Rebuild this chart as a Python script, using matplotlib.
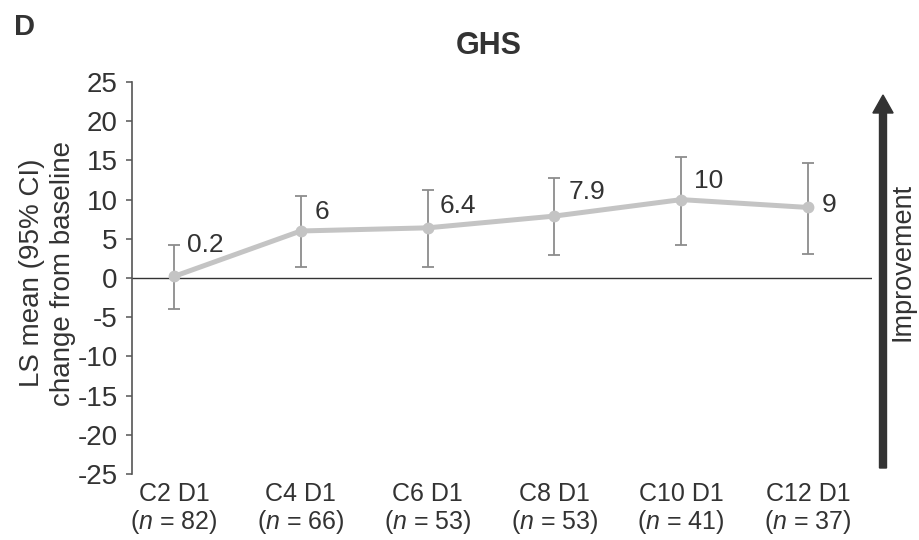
import matplotlib
matplotlib.use("Agg")
from matplotlib import pyplot as plt

plt.rcParams['font.family'] = ['Liberation Sans', 'DejaVu Sans']
plt.rcParams['mathtext.fontset'] = 'custom'
plt.rcParams['mathtext.rm'] = 'Liberation Sans'
plt.rcParams['mathtext.it'] = 'Liberation Sans:italic'
plt.rcParams['axes.unicode_minus'] = False

visits = ["C2 D1", "C4 D1", "C6 D1", "C8 D1", "C10 D1", "C12 D1"]
n_pts = [82, 66, 53, 53, 41, 37]
ls_mean = [0.2, 6, 6.4, 7.9, 10, 9]
ci_low = [-4.0, 1.4, 1.4, 2.9, 4.2, 3.1]
ci_high = [4.2, 10.5, 11.2, 12.8, 15.4, 14.7]
yticks = list(range(-25, 30, 5))

# label offsets in pixels (dx, dy)
offsets = [(13, 31), (14, 19), (12, 22), (14, 24), (13, 19), (14, 2)]

txt = '#333333'
fig = plt.figure(figsize=(9.19, 5.40), dpi=100)
ax = fig.add_axes([0.1436, 0.1222, 0.8053, 0.7259])

x = list(range(len(visits)))
yerr = [[m - lo for m, lo in zip(ls_mean, ci_low)],
        [hi - m for m, hi in zip(ls_mean, ci_high)]]
ax.errorbar(x, ls_mean, yerr=yerr, fmt='none', ecolor='#8c8c8c',
            elinewidth=1.3, capsize=4, capthick=1.3, zorder=2)
ax.plot(x, ls_mean, '-o', color='#c4c4c4', lw=3.6, ms=7.5, zorder=3)
ax.axhline(0, color='#333333', lw=1.0, zorder=1)

for xi, v, (dx, dy) in zip(x, ls_mean, offsets):
    ax.annotate(f"{v:g}", (xi, v), xytext=(dx * 0.72, dy * 0.72),
                textcoords='offset points', ha='left', va='center',
                fontsize=19, color=txt)

ax.set_xlim(-0.331, 5.505)
ax.set_ylim(-25, 25)
ax.set_yticks(yticks)
ax.set_yticklabels([str(t) for t in yticks])
ax.set_xticks(x)
ax.set_xticklabels([f"{v}\n($\\mathit{{n}}$ = {n})" for v, n in zip(visits, n_pts)],
                   fontsize=18, color=txt, linespacing=1.1)
ax.tick_params(axis='x', length=0, pad=6)
ax.tick_params(axis='y', direction='out', length=4.3, width=1.1,
               color='#555555', labelsize=20, labelcolor=txt, pad=6)
for s in ['top', 'right', 'bottom']:
    ax.spines[s].set_visible(False)
ax.spines['left'].set_color('#555555')
ax.spines['left'].set_linewidth(1.2)

fig.text(48 / 919, 1 - 273 / 540, "LS mean (95% CI)\nchange from baseline",
         rotation=90, ha='center', va='center', fontsize=20, color=txt,
         linespacing=1.25)
fig.text(489 / 919, 1 - 46 / 540, "GHS", ha='center', va='center',
         fontsize=22, fontweight='bold', color=txt)
fig.text(25 / 919, 1 - 27 / 540, "D", ha='center', va='center',
         fontsize=21, fontweight='bold', color=txt)

# improvement arrow
fig.patches.append(matplotlib.patches.FancyArrow(
    883 / 919, 1 - 468 / 540, 0, (468 - 95) / 540, width=0.0076,
    head_width=0.022, head_length=18 / 540, length_includes_head=True,
    transform=fig.transFigure, color='#333333'))
fig.text(903 / 919, 1 - 262 / 540, "Improvement", rotation=90,
         ha='center', va='center', fontsize=19.5, color=txt)

fig.savefig("out.png", dpi=100)
